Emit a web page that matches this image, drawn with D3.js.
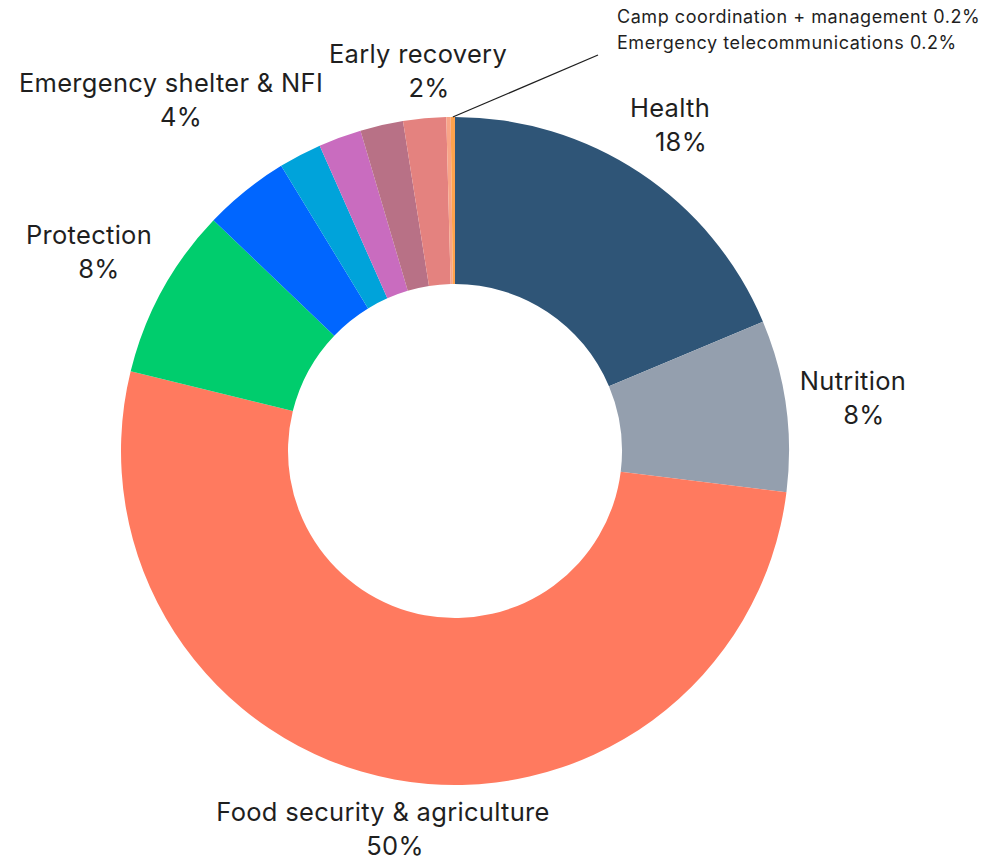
<!DOCTYPE html>
<html>
<head>
<meta charset="utf-8">
<script src="https://cdn.jsdelivr.net/npm/d3@7/dist/d3.min.js"></script>
<style>
  html, body { margin: 0; padding: 0; background: #ffffff; }
  svg { display: block; }
  text { font-family: "Inter", "Lato", sans-serif; fill: #1f1f1f; }
</style>
</head>
<body>
<svg id="chart" width="999" height="860"></svg>
<script>
// Share of requirements by cluster (percent)
const categories = [
  "Health",
  "Nutrition",
  "Food security & agriculture",
  "Protection",
  "Emergency shelter & NFI",
  "Water, sanitation & hygiene",
  "Education",
  "Logistics",
  "Early recovery",
  "Camp coordination + management",
  "Emergency telecommunications"
];
const values = [18, 8, 50, 8, 4, 2, 2, 2, 2, 0.2, 0.2];
const colors = [
  "#2f5577", "#949fae", "#ff7a5f", "#00cd6d", "#0066ff",
  "#00a3da", "#c96cbf", "#b87186", "#e4827f", "#f8a487", "#ffa24c"
];
// Clusters whose name and share are written next to the ring
const labelled = ["Health", "Nutrition", "Food security & agriculture", "Protection",
                  "Emergency shelter & NFI", "Early recovery"];
// Small clusters listed together at the top right with a leader line
const listed = ["Camp coordination + management", "Emergency telecommunications"];

const data = categories.map((c, i) => ({ name: c, value: values[i], color: colors[i] }));

const svg = d3.select("#chart");
const cx = 455, cy = 451, outerR = 334, innerR = 167;

const pie = d3.pie().value(d => d.value).sort(null);
const arc = d3.arc().innerRadius(innerR).outerRadius(outerR);
const arcs = pie(data);

const g = svg.append("g").attr("transform", `translate(${cx},${cy})`);
g.selectAll("path.slice")
  .data(arcs)
  .join("path")
  .attr("class", "slice")
  .attr("d", arc)
  .attr("fill", d => d.data.color);

const fmt = v => `${v}%`;

// Placement of the two-line labels: centre x of each line and baseline of the name line
const labelPos = {
  "Health":                      { x: 670, y: 117, dx2: 11 },
  "Nutrition":                   { x: 853, y: 390, dx2: 11 },
  "Food security & agriculture": { x: 383, y: 821, dx2: 12 },
  "Protection":                  { x: 89,  y: 244, dx2: 10 },
  "Emergency shelter & NFI":     { x: 171, y: 92,  dx2: 10 },
  "Early recovery":              { x: 418, y: 63,  dx2: 11 }
};
const lineGap = 34;

const labels = svg.append("g").attr("class", "labels");
data.filter(d => labelled.includes(d.name)).forEach(d => {
  const p = labelPos[d.name];
  const t = labels.append("text")
    .attr("text-anchor", "middle")
    .attr("font-size", 25.5)
    .attr("letter-spacing", 0.3);
  t.append("tspan").attr("x", p.x).attr("y", p.y).text(d.name);
  t.append("tspan").attr("x", p.x + p.dx2).attr("y", p.y + lineGap).text(fmt(d.value));
});

// Leader from the thinnest slices to their listing
const lastArc = arcs.find(a => a.data.name === listed[1]);
const mid = (lastArc.startAngle + lastArc.endAngle) / 2;
const sx = cx + outerR * Math.sin(mid), sy = cy - outerR * Math.cos(mid);
svg.append("line")
  .attr("x1", sx).attr("y1", sy)
  .attr("x2", 598).attr("y2", 55)
  .attr("stroke", "#1f1f1f")
  .attr("stroke-width", 1.3);

const list = svg.append("text").attr("font-size", 18).attr("letter-spacing", 0.55);
data.filter(d => listed.includes(d.name)).forEach((d, i) => {
  list.append("tspan")
    .attr("x", 617)
    .attr("y", 23 + i * 26)
    .text(`${d.name} ${fmt(d.value)}`);
});
</script>
</body>
</html>
